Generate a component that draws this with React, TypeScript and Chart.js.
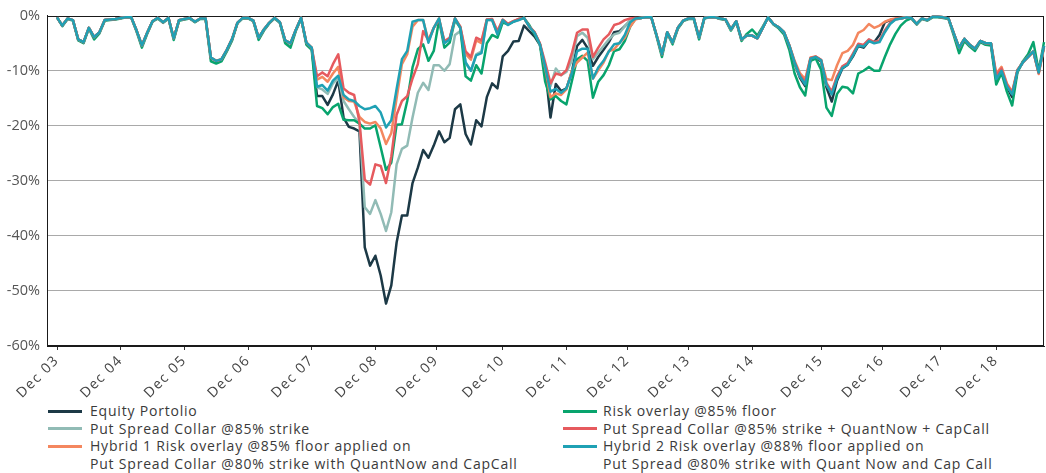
import React, { useEffect, useRef } from "react";
import { Chart, registerables } from "chart.js";

Chart.register(...registerables);

const FONT = "'Open Sans', 'Noto Sans', sans-serif";

// x-axis tick labels and the month index (0 = Dec 03) where each label sits
const tickLabels = ["Dec 03", "Dec 04", "Dec 05", "Dec 06", "Dec 07", "Dec 08", "Dec 09", "Dec 10", "Dec 11", "Dec 12", "Dec 13", "Dec 14", "Dec 15", "Dec 16", "Dec 17", "Dec 18"];
const tickMonths = [0, 12, 24, 36, 48, 60, 71.5, 84, 96, 107.5, 119, 131, 144, 155.5, 166.5, 177];
const yTicks = [0, -10, -20, -30, -40, -50, -60];

const seriesNames = [
  "Equity Portolio",
  "Put Spread Collar @85% strike",
  "Hybrid 1 Risk overlay @85% floor applied on\nPut Spread Collar @80% strike with QuantNow and CapCall",
  "Risk overlay @85% floor",
  "Put Spread Collar @85% strike + QuantNow + CapCall",
  "Hybrid 2 Risk overlay @88% floor applied on\nPut Spread @80% strike with Quant Now and Cap Call",
];
const seriesColors = ["#1c3946", "#91bbb5", "#f4875f", "#08a46d", "#e65a5e", "#1fa1b4"];

// monthly drawdowns (%), Dec 03 .. Jun 19
const equity = [
  -0.3, -1.8, -0.5, -0.8, -4.3, -4.8, -2.2, -3.9, -3.0, -0.8,
  -0.7, -0.6, -0.4, -0.3, -0.3, -2.7, -5.4, -3.1, -1.0, -0.4,
  -1.2, -0.4, -4.1, -0.8, -0.6, -0.4, -1.1, -0.5, -0.5, -7.7,
  -8.3, -8.0, -6.3, -4.3, -1.3, -0.4, -0.4, -0.9, -4.1, -2.5,
  -1.3, -0.4, -1.2, -4.6, -5.2, -2.6, -0.4, -5.0, -5.9, -14.6,
  -14.6, -16.2, -14.3, -11.8, -18.5, -20.2, -20.5, -21.0, -42.1, -45.4,
  -43.6, -47.2, -52.3, -49.0, -41.2, -36.3, -36.3, -30.4, -27.6, -24.4,
  -25.8, -23.6, -21.0, -23.0, -22.2, -17.0, -16.1, -21.5, -23.4, -19.0,
  -20.1, -14.8, -12.3, -13.2, -7.4, -6.4, -4.7, -4.6, -1.8, -2.8,
  -3.8, -5.3, -9.6, -18.5, -12.4, -13.7, -13.2, -10.3, -5.5, -4.4,
  -5.9, -9.1, -7.5, -6.2, -4.8, -3.0, -2.8, -1.9, -1.0, -0.5,
  -0.4, -0.3, -0.3, -3.6, -7.1, -3.0, -4.9, -2.2, -0.9, -0.5,
  -0.5, -4.0, -0.4, -0.3, -0.3, -0.5, -0.7, -2.5, -1.0, -4.3,
  -3.6, -3.6, -4.1, -2.2, -0.3, -1.5, -2.1, -3.0, -5.5, -8.7,
  -11.3, -12.8, -7.9, -7.6, -8.3, -13.0, -15.6, -11.8, -9.6, -8.9,
  -7.4, -5.5, -5.8, -4.6, -4.8, -3.5, -1.2, -0.8, -0.6, -0.5,
  -0.3, -0.4, -1.5, -0.5, -0.8, -0.2, -0.2, -0.3, -0.5, -3.2,
  -5.8, -4.2, -5.3, -6.0, -4.6, -5.0, -5.0, -11.6, -10.0, -12.9,
  -14.8, -10.0, -8.5, -7.5, -6.5, -10.3, -5.5,
];

const putSpreadCollar = [
  -0.3, -1.8, -0.5, -0.8, -4.4, -4.9, -2.2, -4.0, -3.0, -0.8,
  -0.7, -0.6, -0.4, -0.3, -0.3, -2.8, -5.5, -3.1, -1.0, -0.4,
  -1.2, -0.4, -4.2, -0.8, -0.6, -0.4, -1.1, -0.5, -0.5, -7.8,
  -8.4, -8.0, -6.3, -4.3, -1.3, -0.4, -0.4, -0.9, -4.1, -2.5,
  -1.3, -0.4, -1.2, -4.6, -5.2, -2.6, -0.4, -5.0, -5.9, -13.0,
  -13.4, -14.2, -12.3, -11.3, -15.5, -17.0, -18.4, -19.5, -34.8, -36.0,
  -33.5, -36.0, -39.1, -35.7, -27.0, -24.2, -23.6, -18.5, -14.0, -12.2,
  -13.5, -9.0, -9.0, -10.0, -8.8, -3.5, -2.8, -8.5, -10.0, -7.0,
  -6.5, -0.8, -0.8, -3.3, -0.8, -1.6, -1.1, -0.8, -0.4, -2.0,
  -3.1, -5.2, -9.0, -12.8, -9.6, -10.8, -10.2, -8.2, -3.7, -3.1,
  -4.0, -7.9, -6.7, -5.5, -4.3, -3.4, -3.1, -1.9, -0.8, -0.5,
  -0.4, -0.3, -0.3, -3.6, -7.0, -3.0, -4.9, -2.2, -0.9, -0.5,
  -0.5, -4.0, -0.4, -0.3, -0.3, -0.5, -0.7, -2.5, -1.0, -4.3,
  -3.6, -3.6, -4.1, -2.2, -0.3, -1.5, -2.1, -3.0, -5.4, -8.5,
  -11.0, -12.3, -7.8, -7.5, -8.1, -12.6, -13.9, -11.2, -9.3, -8.7,
  -7.0, -5.2, -5.4, -4.4, -4.8, -4.6, -2.8, -1.4, -0.7, -0.5,
  -0.3, -0.4, -1.5, -0.5, -0.8, -0.2, -0.2, -0.3, -0.5, -3.2,
  -5.8, -4.2, -5.3, -6.0, -4.6, -5.0, -5.0, -11.4, -9.9, -12.7,
  -14.2, -10.0, -8.5, -7.5, -6.5, -10.2, -5.6,
];

const hybrid1 = [
  -0.3, -1.8, -0.5, -0.8, -4.3, -4.8, -2.2, -3.9, -3.0, -0.8,
  -0.7, -0.6, -0.4, -0.3, -0.3, -2.7, -5.4, -3.1, -1.0, -0.4,
  -1.2, -0.4, -4.1, -0.8, -0.6, -0.4, -1.1, -0.5, -0.5, -7.6,
  -8.2, -7.9, -6.2, -4.2, -1.3, -0.4, -0.4, -0.9, -4.0, -2.5,
  -1.3, -0.4, -1.2, -4.5, -5.0, -2.6, -0.4, -4.9, -5.8, -11.6,
  -11.1, -12.0, -10.5, -9.3, -14.8, -15.5, -15.6, -18.4, -19.3, -19.6,
  -19.3, -20.5, -23.3, -21.3, -15.0, -8.8, -7.0, -2.0, -0.8, -0.8,
  -4.6, -2.2, -0.5, -4.8, -4.2, -0.5, -2.0, -7.0, -8.0, -4.5,
  -5.0, -0.7, -0.7, -3.0, -0.8, -1.5, -1.0, -0.7, -0.4, -2.0,
  -3.0, -5.1, -9.5, -14.8, -14.1, -14.4, -13.4, -10.0, -8.5, -7.6,
  -6.7, -11.4, -9.9, -8.5, -6.4, -6.1, -4.9, -4.0, -2.0, -0.7,
  -0.4, -0.3, -0.3, -3.6, -7.0, -3.0, -4.9, -2.2, -0.9, -0.5,
  -0.5, -4.0, -0.4, -0.3, -0.3, -0.5, -0.7, -2.5, -1.0, -4.3,
  -3.6, -3.6, -4.1, -2.2, -0.3, -1.5, -2.1, -3.0, -5.3, -8.2,
  -10.4, -11.5, -7.6, -7.4, -8.1, -11.5, -11.7, -9.0, -6.8, -6.4,
  -5.3, -3.1, -2.6, -1.5, -2.2, -1.8, -1.1, -0.7, -0.5, -0.4,
  -0.3, -0.4, -1.5, -0.5, -0.8, -0.2, -0.2, -0.3, -0.5, -3.2,
  -5.8, -4.2, -5.3, -6.0, -4.6, -5.0, -5.0, -10.5, -9.3, -12.3,
  -13.8, -9.8, -8.5, -7.5, -6.6, -10.6, -5.8,
];

const riskOverlay = [
  -0.3, -1.9, -0.6, -0.9, -4.5, -5.0, -2.3, -4.3, -3.2, -0.9,
  -0.8, -0.7, -0.5, -0.3, -0.4, -2.9, -5.8, -3.3, -1.1, -0.5,
  -1.3, -0.5, -4.4, -0.9, -0.7, -0.5, -1.2, -0.6, -0.6, -8.3,
  -8.7, -8.3, -6.5, -4.5, -1.4, -0.5, -0.5, -1.0, -4.4, -2.7,
  -1.4, -0.5, -1.3, -5.0, -5.8, -2.8, -0.5, -5.3, -6.2, -16.4,
  -16.8, -17.9, -16.6, -16.0, -18.9, -19.0, -19.0, -19.6, -20.5, -20.5,
  -19.9, -23.9, -28.0, -26.7, -19.8, -19.7, -15.5, -9.4, -6.1, -5.2,
  -8.2, -6.4, -0.8, -5.8, -4.9, -0.8, -2.2, -11.0, -11.8, -9.0,
  -10.5, -5.0, -3.5, -4.0, -1.2, -1.6, -1.1, -0.6, -0.4, -1.7,
  -3.4, -5.2, -12.0, -15.2, -14.6, -15.5, -16.1, -12.0, -7.9, -7.3,
  -8.2, -14.9, -12.0, -10.8, -9.0, -6.4, -6.1, -4.6, -2.0, -0.5,
  -0.4, -0.3, -0.3, -3.8, -7.5, -3.2, -5.2, -2.4, -1.0, -0.6,
  -0.6, -4.3, -0.5, -0.3, -0.3, -0.6, -0.8, -2.7, -1.1, -4.6,
  -3.3, -2.5, -3.6, -2.0, -0.3, -1.6, -2.3, -3.4, -6.2, -10.5,
  -13.0, -14.5, -8.2, -7.8, -9.8, -16.7, -18.2, -14.2, -12.9, -13.1,
  -14.1, -10.5, -10.0, -9.3, -10.0, -10.0, -7.5, -5.2, -3.3, -1.8,
  -0.9, -0.5, -1.6, -0.6, -0.9, -0.3, -0.3, -0.4, -0.6, -3.6,
  -6.8, -4.6, -5.6, -6.4, -4.8, -5.3, -5.4, -12.5, -10.4, -13.8,
  -16.3, -10.3, -8.3, -7.0, -4.8, -10.0, -4.8,
];

const pscQuantNowCapCall = [
  -0.3, -1.8, -0.5, -0.8, -4.3, -4.8, -2.2, -3.9, -3.0, -0.8,
  -0.7, -0.6, -0.4, -0.3, -0.3, -2.7, -5.4, -3.1, -1.0, -0.4,
  -1.2, -0.4, -4.1, -0.8, -0.6, -0.4, -1.1, -0.5, -0.5, -7.6,
  -8.2, -7.9, -6.2, -4.2, -1.3, -0.4, -0.4, -0.9, -4.0, -2.5,
  -1.3, -0.4, -1.2, -4.5, -5.0, -2.6, -0.4, -4.9, -5.8, -11.0,
  -10.3, -11.0, -8.8, -7.0, -13.2, -14.0, -14.4, -19.3, -29.8, -30.7,
  -27.0, -27.3, -30.4, -25.6, -18.0, -15.5, -14.6, -11.4, -8.8, -2.8,
  -4.5, -2.2, -0.7, -4.6, -4.0, -0.5, -2.0, -6.5, -7.5, -4.0,
  -4.5, -0.7, -0.6, -2.8, -0.7, -1.5, -1.0, -0.6, -0.4, -2.0,
  -3.0, -5.0, -8.5, -12.3, -10.5, -10.8, -9.9, -6.9, -3.1, -2.5,
  -2.5, -7.5, -5.8, -4.3, -3.4, -1.7, -1.4, -0.8, -0.5, -0.4,
  -0.4, -0.3, -0.3, -3.6, -7.0, -3.0, -4.9, -2.2, -0.9, -0.5,
  -0.5, -4.0, -0.4, -0.3, -0.3, -0.5, -0.7, -2.5, -1.0, -4.3,
  -3.6, -3.6, -4.1, -2.2, -0.3, -1.5, -2.1, -3.0, -5.4, -8.4,
  -10.8, -12.0, -7.7, -7.4, -8.0, -12.2, -13.8, -11.0, -9.2, -8.6,
  -6.9, -5.1, -5.3, -4.3, -4.8, -4.5, -2.7, -1.3, -0.6, -0.5,
  -0.3, -0.4, -1.5, -0.5, -0.8, -0.2, -0.2, -0.3, -0.5, -3.2,
  -5.8, -4.2, -5.3, -6.0, -4.6, -5.0, -5.0, -10.8, -9.6, -12.5,
  -14.0, -9.9, -8.5, -7.5, -6.5, -10.4, -5.6,
];

const hybrid2 = [
  -0.3, -1.8, -0.5, -0.8, -4.3, -4.8, -2.2, -3.9, -3.0, -0.8,
  -0.7, -0.6, -0.4, -0.3, -0.3, -2.7, -5.4, -3.1, -1.0, -0.4,
  -1.2, -0.4, -4.1, -0.8, -0.6, -0.4, -1.1, -0.5, -0.5, -7.6,
  -8.2, -7.9, -6.2, -4.2, -1.3, -0.4, -0.4, -0.9, -4.0, -2.5,
  -1.3, -0.4, -1.2, -4.5, -5.0, -2.6, -0.4, -4.9, -5.8, -12.9,
  -12.6, -13.6, -11.8, -10.9, -14.4, -15.2, -15.5, -16.4, -17.0, -16.8,
  -16.4, -17.6, -20.3, -19.0, -13.3, -7.9, -6.4, -1.1, -0.8, -0.8,
  -4.9, -2.2, -0.5, -5.0, -4.3, -0.5, -2.2, -8.5, -10.0, -7.2,
  -6.8, -0.8, -0.8, -3.4, -0.8, -1.7, -1.1, -0.8, -0.4, -2.0,
  -3.1, -5.2, -9.3, -13.8, -13.3, -14.0, -13.2, -10.5, -6.5, -6.0,
  -6.0, -11.4, -9.4, -8.2, -6.5, -5.2, -5.0, -3.5, -1.2, -0.5,
  -0.4, -0.3, -0.3, -3.6, -7.0, -3.0, -4.9, -2.2, -0.9, -0.5,
  -0.5, -4.0, -0.4, -0.3, -0.3, -0.5, -0.7, -2.5, -1.0, -4.3,
  -3.6, -3.6, -4.1, -2.2, -0.3, -1.5, -2.1, -3.0, -5.4, -8.5,
  -11.0, -12.5, -7.8, -7.5, -8.1, -12.5, -14.3, -11.5, -9.5, -8.9,
  -7.2, -5.4, -5.6, -4.6, -5.0, -4.8, -3.0, -1.5, -0.7, -0.5,
  -0.3, -0.4, -1.5, -0.5, -0.8, -0.2, -0.2, -0.3, -0.5, -3.2,
  -5.8, -4.2, -5.3, -6.0, -4.6, -5.0, -5.0, -11.5, -10.0, -12.8,
  -14.3, -10.0, -8.5, -7.5, -6.5, -10.3, -5.5,
];

const seriesValues = [equity, putSpreadCollar, hybrid1, riskOverlay, pscQuantNowCapCall, hybrid2];
// drawing order: lower number drawn on top
const seriesOrder = [5, 4, 2, 3, 1, 0];

// legend layout: series indices per column
const legendCols = [[0, 1, 2], [3, 4, 5]];

export default function App() {
  const canvasRef = useRef<HTMLCanvasElement | null>(null);

  useEffect(() => {
    const canvas = canvasRef.current;
    if (!canvas) return;
    const frame = {
      id: "frame",
      beforeDatasetsDraw(chart: any) {
        const { ctx, chartArea: a } = chart;
        ctx.save();
        ctx.strokeStyle = "#1a1a1a";
        ctx.lineWidth = 1;
        ctx.strokeRect(Math.round(a.left) + 0.5, Math.round(a.top) + 0.5, Math.round(a.right - a.left) - 1, Math.round(a.bottom - a.top) - 1);
        ctx.restore();
      },
    };
    const chart: any = new Chart(canvas, {
      type: "line",
      data: {
        datasets: seriesValues.map((vals, k) => ({
          label: seriesNames[k],
          data: vals.map((v, i) => ({ x: i, y: v })),
          borderColor: seriesColors[k],
          backgroundColor: seriesColors[k],
          borderWidth: 2.5,
          pointRadius: 0,
          tension: 0,
          fill: false,
          order: seriesOrder[k],
          borderJoinStyle: "round" as const,
          clip: false as any,
        })),
      },
      options: {
        animation: false,
        responsive: false,
        maintainAspectRatio: false,
        layout: { padding: { top: 14, right: 2, left: 0, bottom: 0 } },
        plugins: { legend: { display: false }, tooltip: { enabled: false } },
        scales: {
          x: {
            type: "linear",
            min: -1.885,
            max: 186,
            afterBuildTicks: (scale: any) => {
              scale.ticks = tickMonths.map((v) => ({ value: v }));
            },
            afterFit: (scale: any) => {
              scale.height = 54;
            },
            grid: { drawOnChartArea: false, drawTicks: true, tickLength: 4, color: "#333" },
            border: { display: true, color: "#1a1a1a", width: 1 },
            ticks: {
              autoSkip: false,
              minRotation: 45,
              maxRotation: 45,
              padding: 2,
              color: "#444",
              font: { family: FONT, size: 14 },
              callback: (_v: any, idx: number) => tickLabels[idx],
            },
          },
          y: {
            type: "linear",
            min: -60,
            max: 0,
            afterBuildTicks: (scale: any) => {
              scale.ticks = yTicks.map((v) => ({ value: v }));
            },
            afterFit: (scale: any) => {
              scale.width = 47;
            },
            grid: {
              drawTicks: false,
              lineWidth: 1,
              color: (c: any) => (c.tick && (c.tick.value === 0 || c.tick.value === -60) ? "rgba(0,0,0,0)" : "#a9a9a9"),
            },
            border: { display: true, color: "#1a1a1a", width: 1 },
            ticks: {
              padding: 7,
              color: "#555",
              font: { family: FONT, size: 14.5 },
              callback: (v: any) => `${v}%`,
            },
          },
        },
      },
      plugins: [frame],
    } as any);

    // wider letter spacing for the rotated date labels, as in the reference
    const xs = chart.scales.x;
    const origDrawLabels = xs.drawLabels.bind(xs);
    xs.drawLabels = (area: any) => {
      const ctx = chart.ctx;
      ctx.save();
      (ctx as any).letterSpacing = "1.5px";
      origDrawLabels(area);
      ctx.restore();
    };
    chart.draw();

    return () => chart.destroy();
  }, []);

  return (
    <div style={{ position: "absolute", left: 0, top: 0, width: 1046, height: 473, background: "#fff", overflow: "hidden" }}>
      <canvas ref={canvasRef} width={1046} height={400} style={{ position: "absolute", left: 0, top: 0, width: 1046, height: 400 }} />
      {legendCols.map((col, c) => (
        <div
          key={c}
          style={{ position: "absolute", left: c === 0 ? 48 : 563, top: 402, fontFamily: FONT, fontSize: 14, color: "#3a3a3a", letterSpacing: "0.8px" }}
        >
          {col.map((k) => (
            <div key={k} style={{ display: "flex", alignItems: "flex-start" }}>
              <div style={{ width: 34, height: 3, marginTop: 7.5, marginRight: c === 0 ? 8 : 6, background: seriesColors[k], flex: "none" }} />
              <div style={{ lineHeight: "17.5px", whiteSpace: "pre" }}>{seriesNames[k]}</div>
            </div>
          ))}
        </div>
      ))}
    </div>
  );
}
